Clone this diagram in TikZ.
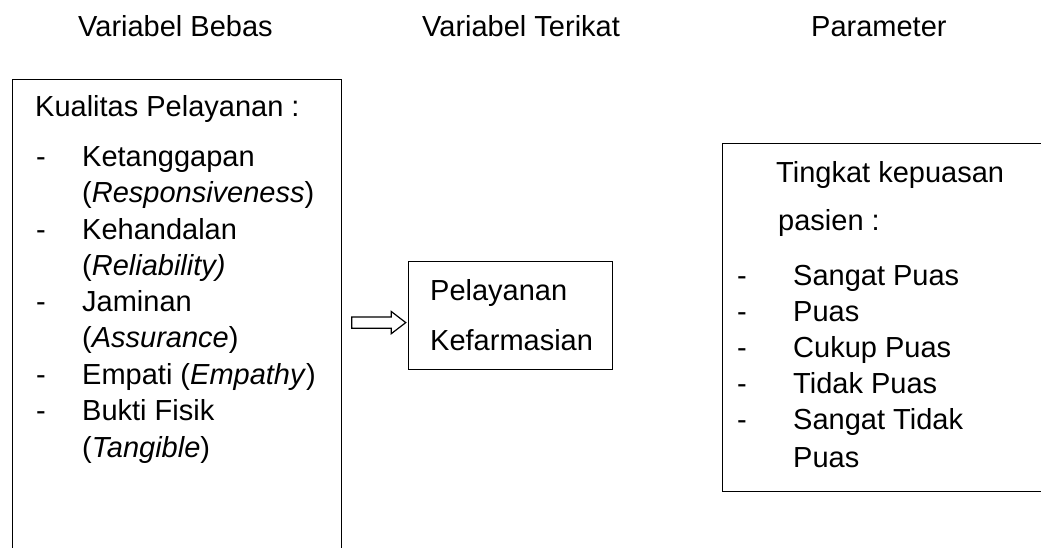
\documentclass[tikz,border=0pt]{standalone}
\usepackage{fontspec}
\setmainfont{Liberation Sans}
\usetikzlibrary{shapes.arrows}

\tikzset{
  kotak/.style={draw, line width=1.2pt, anchor=north west, inner sep=0pt},
  teks/.style={anchor=base west, inner sep=0pt, font=\fontsize{29}{35}\selectfont},
  panah/.style={single arrow, draw, line width=1.2pt, inner sep=5pt,
    minimum height=54pt, single arrow head extend=5.5pt, single arrow tip angle=75}
}

\begin{document}
\begin{tikzpicture}[x=1pt, y=-1pt]
                \useasboundingbox (0,0) rectangle (1041,548);
                \clip (0,0) rectangle (1041,548);

                % Judul kolom
                \node[teks] (hbebas) at (78,37) {Variabel Bebas};
                \node[teks] (hterikat) at (422,37) {Variabel Terikat};
                \node[teks] (hparam) at (811,37) {Parameter};

                % Kotak variabel bebas (terbuka ke bawah)
                \node[kotak, minimum width=329pt, minimum height=490pt] (bebas) at (12,79) {};
                \node[teks] (kualitas) at (35,117) {Kualitas Pelayanan :};
                \node[teks] (d1) at (36,167) {-};
                \node[teks] (k1) at (82,167) {Ketanggapan};
                \node[teks] (k1b) at (82,203) {(\textit{Responsiveness})};
                \node[teks] (d2) at (36,239) {-};
                \node[teks] (k2) at (82,239) {Kehandalan};
                \node[teks] (k2b) at (82,275) {(\textit{Reliability)}};
                \node[teks] (d3) at (36,311) {-};
                \node[teks] (k3) at (82,311) {Jaminan};
                \node[teks] (k3b) at (82,347) {(\textit{Assurance})};
                \node[teks] (d4) at (36,384) {-};
                \node[teks] (k4) at (82,384) {Empati (\textit{Empathy})};
                \node[teks] (d5) at (36,420) {-};
                \node[teks] (k5) at (82,420) {Bukti Fisik};
                \node[teks] (k5b) at (82,457) {(\textit{Tangible})};

                % Kotak variabel terikat
                \node[kotak, minimum width=204pt, minimum height=108pt] (terikat) at (408,261) {};
                \node[teks] (t1) at (430,300) {Pelayanan};
                \node[teks] (t2) at (430,350) {Kefarmasian};

                % Panah
                \path ([yshift=2pt]bebas.east) -- ([yshift=-7pt]terikat.west)
                    node[midway, panah] (arr) {};

                % Kotak parameter (sisi kanan di luar gambar)
                \node[kotak, minimum width=340pt, minimum height=348pt] (param) at (722,143) {};
                \node[teks] (p0) at (776,183) {Tingkat kepuasan};
                \node[teks] (p0b) at (778,230) {pasien :};
                \node[teks] (e1) at (737,285) {-};
                \node[teks] (p1) at (793,285) {Sangat Puas};
                \node[teks] (e2) at (737,321) {-};
                \node[teks] (p2) at (793,321) {Puas};
                \node[teks] (e3) at (737,357) {-};
                \node[teks] (p3) at (793,357) {Cukup Puas};
                \node[teks] (e4) at (737,393) {-};
                \node[teks] (p4) at (793,393) {Tidak Puas};
                \node[teks] (e5) at (737,429) {-};
                \node[teks] (p5) at (793,429) {Sangat Tidak};
                \node[teks] (p5b) at (793,467) {Puas};
\end{tikzpicture}
\end{document}
